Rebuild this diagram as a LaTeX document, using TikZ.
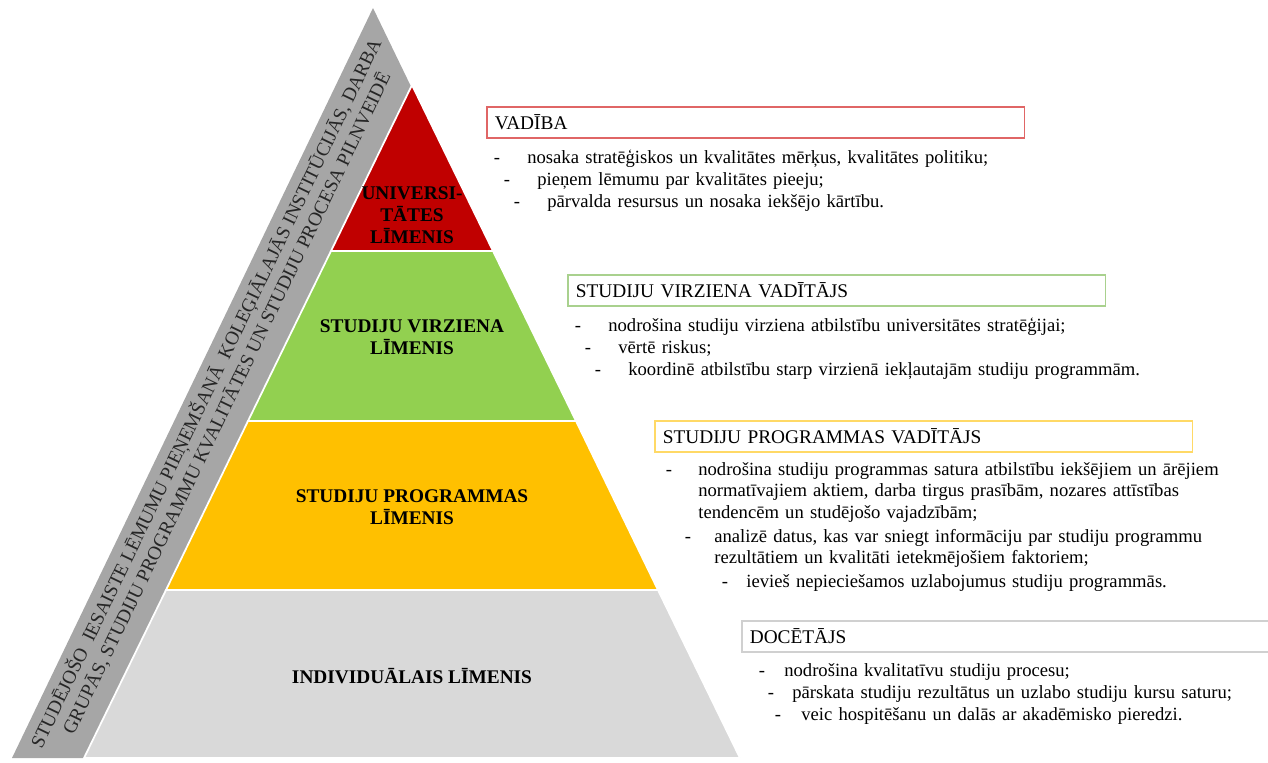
\documentclass[tikz,border=0pt]{standalone}
\usepackage{fontspec}
\setmainfont{Liberation Serif}
\usetikzlibrary{positioning}
\definecolor{univred}{HTML}{C00000}
\definecolor{dirgreen}{HTML}{92D050}
\definecolor{proyellow}{HTML}{FFC000}
\definecolor{indgray}{HTML}{D9D9D9}
\definecolor{bandgray}{HTML}{A6A6A6}
\definecolor{redline}{HTML}{E06666}
\definecolor{greenline}{HTML}{A9D18E}
\definecolor{yellowline}{HTML}{FFD966}
\definecolor{grayline}{HTML}{D0D0D0}

\begin{document}
\begin{tikzpicture}[x=0.02cm, y=-0.02cm,
	lvl/.style={font=\fontsize{11}{12.5}\selectfont\bfseries, align=center, inner sep=0pt},
	lvlsep/.style={draw=white, line width=1pt},
	rolebox/.style={draw=#1, line width=0.9pt, anchor=north west, minimum height=0.62cm,
		text width=10.44cm, inner xsep=0.16cm, align=left, font=\fontsize{11}{12.5}\selectfont},
	itemdash/.style={anchor=base, inner sep=0pt, font=\fontsize{10.6}{12.3}\selectfont},
	itemtext/.style={anchor=base west, inner sep=0pt, text width=12cm, align=left, font=\fontsize{10.6}{12.3}\selectfont}]
	\useasboundingbox (0,0) rectangle (1268,762);

	\fill[bandgray] (373,8) -- (12,758) -- (736,758) -- cycle;
	\filldraw[lvlsep, fill=univred] (412,85) -- (493,251) -- (331,251) -- cycle;
	\filldraw[lvlsep, fill=dirgreen] (331,251) -- (493,251) -- (576,421) -- (248,421) -- cycle;
	\filldraw[lvlsep, fill=proyellow] (248,421) -- (576,421) -- (658,590) -- (166,590) -- cycle;
	\filldraw[lvlsep, fill=indgray] (166,590) -- (658,590) -- (740,758) -- (84,758) -- cycle;

	\draw (216,398) node[rotate=64.3, align=center, text=black!85, inner sep=0pt,
		font=\fontsize{11}{13}\selectfont] (band)
		{STUDĒJOŠO\ \ IESAISTE LĒMUMU PIEŅEMŠANĀ\ \ KOLEĢIĀLAJĀS INSTITŪCIJĀS, DARBA\\
		GRUPĀS, STUDIJU PROGRAMMU KVALITĀTES UN STUDIJU PROCESA PILNVEIDĒ};

	\draw (412,215) node[lvl] (univ) {UNIVERSI-\\TĀTES\\LĪMENIS}
		(412,337) node[lvl] (dir) {STUDIJU VIRZIENA\\LĪMENIS}
		(412,507) node[lvl] (prog) {STUDIJU PROGRAMMAS\\LĪMENIS}
		(412,676) node[lvl] (indiv) {INDIVIDUĀLAIS LĪMENIS};

	\draw (486,106) node[rolebox=redline] (vad) {VADĪBA}
		(497,163) node[itemdash] (vad1d) {-}
		(527,163) node[itemtext] (vad1) {nosaka stratēģiskos un kvalitātes mērķus, kvalitātes politiku;}
		(507,185) node[itemdash] (vad2d) {-}
		(537,185) node[itemtext] (vad2) {pieņem lēmumu par kvalitātes pieeju;}
		(517,207) node[itemdash] (vad3d) {-}
		(547,207) node[itemtext] (vad3) {pārvalda resursus un nosaka iekšējo kārtību.};

	\draw (567,274) node[rolebox=greenline] (svv) {STUDIJU VIRZIENA VADĪTĀJS}
		(578,331) node[itemdash] (svv1d) {-}
		(608,331) node[itemtext] (svv1) {nodrošina studiju virziena atbilstību universitātes stratēģijai;}
		(588,353) node[itemdash] (svv2d) {-}
		(618,353) node[itemtext] (svv2) {vērtē riskus;}
		(598,375) node[itemdash] (svv3d) {-}
		(628,375) node[itemtext] (svv3) {koordinē atbilstību starp virzienā iekļautajām studiju programmām.};

	\draw (654,420) node[rolebox=yellowline] (spv) {STUDIJU PROGRAMMAS VADĪTĀJS}
		(669,475) node[itemdash] (spv1d) {-}
		(698,475) node[itemtext] (spv1) {nodrošina studiju programmas satura atbilstību iekšējiem un ārējiem\\
			normatīvajiem aktiem, darba tirgus prasībām, nozares attīstības\\
			tendencēm un studējošo vajadzībām;}
		(688,542) node[itemdash] (spv2d) {-}
		(714,542) node[itemtext] (spv2) {analizē datus, kas var sniegt informāciju par studiju programmu\\
			rezultātiem un kvalitāti ietekmējošiem faktoriem;}
		(725,587) node[itemdash] (spv3d) {-}
		(746,587) node[itemtext] (spv3) {ievieš nepieciešamos uzlabojumus studiju programmās.};

	\draw (741,620) node[rolebox=grayline] (doc) {DOCĒTĀJS}
		(762,676) node[itemdash] (doc1d) {-}
		(784,676) node[itemtext] (doc1) {nodrošina kvalitatīvu studiju procesu;}
		(771,698) node[itemdash] (doc2d) {-}
		(792,698) node[itemtext] (doc2) {pārskata studiju rezultātus un uzlabo studiju kursu saturu;}
		(778,720) node[itemdash] (doc3d) {-}
		(801,720) node[itemtext] (doc3) {veic hospitēšanu un dalās ar akadēmisko pieredzi.};
\end{tikzpicture}
\end{document}
